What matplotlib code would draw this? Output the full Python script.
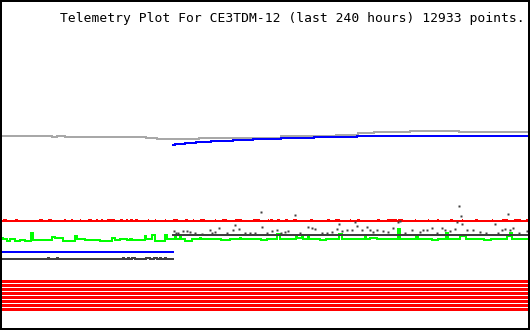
import matplotlib
matplotlib.use('Agg')
import matplotlib.pyplot as plt

# telemetry, last 240 hours (x = hours, y = raw counts)
title = 'Telemetry Plot For CE3TDM-12 (last 240 hours) 12933 points.'

# gray channel (step changes)
gray_t = [0, 22.8, 25.1, 28.7, 65.7, 70.7, 89.9, 127.3, 142.4, 152.4, 162.4, 169.7, 186.2, 208.5, 240]
gray_v = [194.2, 193.0, 193.8, 193.5, 192.5, 191.2, 192.3, 193.7, 194.3, 195.3, 197.0, 198.0, 199.0, 198.0, 198.0]

# blue channel, second half
blue_t = [78.0, 78.9, 83.5, 88.5, 95.4, 105.4, 114.5, 120.0, 127.3, 142.4, 162.0, 221.3, 240]
blue_v = [185.0, 185.8, 186.8, 187.8, 188.8, 189.8, 190.7, 191.0, 191.7, 193.3, 194.3, 193.7, 193.7]

# blue channel, first half
blue2_t = [0, 78.0]
blue2_v = [78.2, 78.2]

# red channel
red_base = 109.5
red_bump_start = [0.5, 5.9, 16.9, 21.0, 28.5, 31.7, 35.4, 39.2, 43.1, 45.4, 47.9, 53.8, 56.6, 58.4,
                  60.7, 66.4, 69.6, 74.2, 78.0, 83.5, 87.0, 90.3, 97.0, 100.4, 106.3, 114.5, 121.2,
                  122.3, 125.5, 129.1, 132.8, 140.5, 148.3, 151.9, 158.6, 162.0, 171.1, 175.7,
                  180.7, 188.3, 194.2, 198.7, 204.4, 209.7, 215.8, 223.4, 228.2, 233.4, 239.3]
red_bump_end = [2.3, 7.3, 18.7, 22.8, 29.2, 32.4, 36.1, 41.1, 43.8, 46.1, 51.6, 55.2, 57.5, 59.8,
                62.1, 67.1, 70.3, 74.9, 80.3, 84.9, 87.7, 92.6, 97.7, 102.7, 109.5, 117.7, 121.9,
                123.7, 126.8, 130.5, 134.6, 141.9, 149.7, 154.2, 159.3, 163.4, 172.5, 180.2,
                183.0, 189.0, 194.9, 199.4, 205.8, 210.4, 217.2, 224.1, 230.9, 236.6, 240.0]

# green channel
green_t = [0, 0.5, 2.1, 3.6, 5.9, 8.2, 10.5, 13.1, 14.0, 22.7, 24.2, 28.0, 33.3, 34.4, 37.9,
           44.7, 50.0, 51.6, 53.8, 56.9, 58.5, 59.5, 60.7, 65.2, 65.7, 68.5, 70.0, 74.6, 75.3,
           78.0, 78.9, 79.5, 81.2, 81.8, 83.5, 86.5, 90.3, 91.0, 100.0, 104.0, 108.6, 109.2,
           118.0, 121.0, 125.5, 127.0, 134.1, 134.7, 136.9, 137.5, 139.6, 140.2, 145.0, 148.0,
           153.8, 155.0, 165.6, 166.2, 168.0, 171.0, 180.7, 181.4, 188.9, 190.0, 196.0, 199.0,
           202.6, 203.5, 209.0, 211.5, 220.0, 223.0, 230.4, 231.8, 232.5, 240]
green_v = [92.5, 91.0, 89.5, 90.7, 89.2, 89.8, 89.0, 97.0, 90.0, 93.0, 92.0, 89.5, 94.5, 91.5,
           90.5, 89.5, 92.5, 90.5, 91.3, 90.0, 91.0, 90.0, 90.2, 94.3, 91.5, 95.0, 89.5, 95.0,
           91.5, 91.3, 95.0, 91.3, 95.5, 91.3, 89.0, 91.3, 92.5, 91.3, 90.3, 91.3, 92.5, 91.3,
           90.3, 91.3, 96.0, 91.3, 95.0, 92.3, 93.0, 91.3, 94.5, 91.3, 90.3, 91.3, 96.5, 91.3,
           95.0, 91.3, 92.5, 91.3, 101.0, 91.3, 93.5, 91.3, 90.3, 91.3, 97.0, 91.3, 94.0, 91.3,
           90.3, 91.3, 94.0, 97.5, 91.3, 91.3]

# dark channel, first half
dark_t = [0, 20.9, 21.5, 25, 25.6, 55, 55.5, 57.5, 58, 59.5, 60.5, 65.7, 67.5, 69.5, 70.5, 72,
          72.5, 74.5, 75, 78]
dark_v = [71.5, 72.5, 71.5, 72.5, 71.5, 72.5, 71.5, 72.5, 71.5, 72.5, 71.5, 72.5, 71.5, 72.5,
          71.5, 72.5, 71.5, 72.5, 71.5, 71.5]

# dark channel, second half: base level + scattered samples
dark2_t = [78.0, 240]
dark2_v = [95.5, 95.5]
dots_t = [78.5, 79.4, 80.5, 82.6, 84.6, 85.8, 88.0, 91.3, 94.9, 96.0, 97.2, 99.2, 102.7, 105.4,
          106.3, 108.1, 110.9, 113.0, 115.4, 118.2, 118.6, 121.0, 123.2, 125.5, 127.5, 129.1,
          130.5, 133.7, 136.0, 139.6, 141.4, 142.8, 146.0, 148.5, 150.6, 152.9, 153.8, 155.1,
          157.4, 159.7, 161.1, 162.0, 164.3, 166.5, 167.9, 169.3, 171.1, 173.8, 176.1, 178.4,
          180.7, 181.6, 184.0, 187.1, 190.7, 192.1, 193.9, 196.2, 198.5, 200.8, 202.1, 204.4,
          206.7, 207.6, 208.5, 209.4, 209.9, 212.2, 214.9, 218.1, 221.0, 224.9, 226.5, 228.1,
          229.5, 230.9, 231.8, 233.2, 236.0, 239.5]
dots_v = [99.5, 97, 97, 99, 99.5, 98, 97, 96, 100, 97, 98, 102, 97, 100,
          105.5, 101, 97, 97, 97, 118, 103, 97, 99.5, 100, 97, 98,
          99, 115, 97, 103, 102, 101, 97, 97, 98, 101, 106, 99,
          100, 100, 108, 104, 100, 103, 100, 98, 100, 99, 98, 102,
          108, 109, 97, 100.5, 98, 100, 100, 102, 97, 102, 100, 99,
          101, 108, 124, 114, 106, 100, 100, 98, 97, 106, 97, 100,
          101, 116.5, 100, 102, 97, 99]

# status bits at the bottom
bit_levels = [48.7, 44.7, 40.8, 36.8, 32.9, 28.9, 24.9, 21.0]

fig = plt.figure(figsize=(5.3, 3.3), dpi=100)
ax = fig.add_axes([0, 0, 1, 1])
px = 0.72  # one pixel in points
aa = False

ax.plot(gray_t, gray_v, color='#a8a8a8', lw=2 * px, drawstyle='steps-post', antialiased=aa)
ax.plot(blue_t, blue_v, color='#0000ff', lw=2 * px, drawstyle='steps-post', antialiased=aa)
ax.plot(blue2_t, blue2_v, color='#0000ff', lw=2 * px, antialiased=aa)
ax.hlines(red_base, 0, 240, color='#ff0000', lw=2 * px, antialiased=aa)
ax.hlines([red_base + 1.0] * len(red_bump_start), red_bump_start, red_bump_end,
          color='#ff0000', lw=2 * px, antialiased=aa)
ax.plot(green_t, green_v, color='#00ff00', lw=2 * px, drawstyle='steps-post', antialiased=aa)
ax.plot(dark_t, dark_v, color='#404040', lw=2 * px, drawstyle='steps-post', antialiased=aa)
ax.plot(dark2_t, dark2_v, color='#404040', lw=2 * px, antialiased=aa)
ax.plot(dots_t, dots_v, ls='none', marker='s', ms=1.6, mec='none', color='#404040', antialiased=aa)
ax.hlines(bit_levels, 0, 240, color='#ff0000', lw=3 * px, antialiased=aa)

ax.set_xlim(-0.91, 240.91)
ax.set_ylim(0, 330)
ax.set_xticks([])
ax.set_yticks([])
for s in ax.spines.values():
    s.set_linewidth(4 * px)
    s.set_color('black')

fig.text(60 / 530, 1 - 22 / 330, title, family='DejaVu Sans Mono', fontsize=9.35,
         va='baseline', ha='left', color='black')

fig.savefig('out.png', dpi=100, facecolor='white')
